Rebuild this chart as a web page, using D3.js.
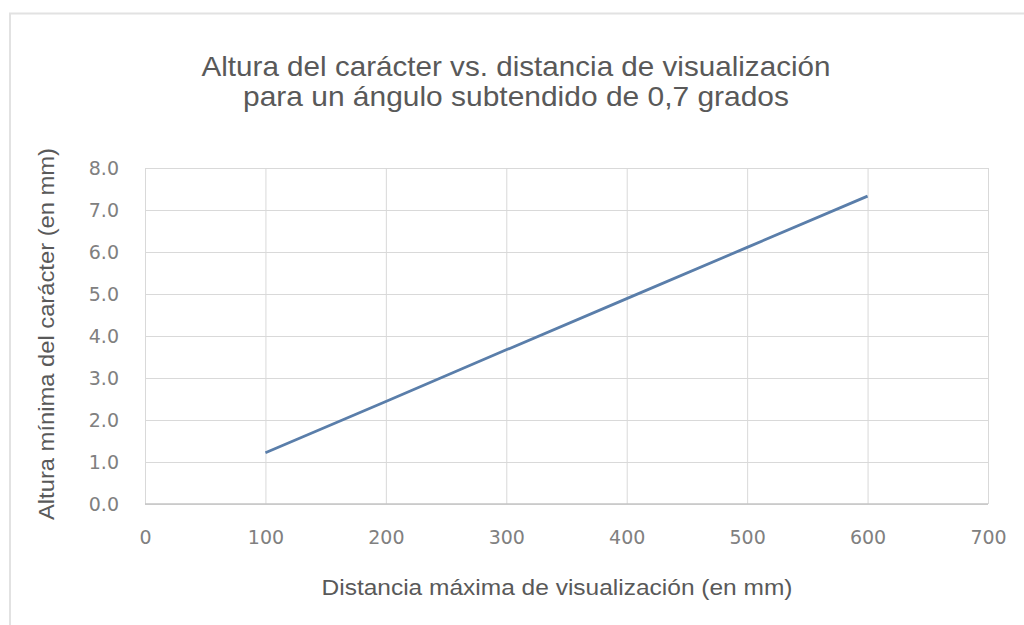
<!DOCTYPE html>
<html>
<head>
<meta charset="utf-8">
<script src="https://cdn.jsdelivr.net/npm/d3@7"></script>
<style>
  body { margin: 0; background: #fff; }
  text { font-family: "Liberation Sans", Arial, sans-serif; }
</style>
</head>
<body>
<script>
// Datos del grafico
const distancias = [100, 200, 300, 400, 500, 600];
const alturas = [1.22, 2.44, 3.67, 4.89, 6.11, 7.33];
const xTicks = [0, 100, 200, 300, 400, 500, 600, 700];
const yTicks = [0, 1, 2, 3, 4, 5, 6, 7, 8];
const titulo = ["Altura del carácter vs. distancia de visualización",
                "para un ángulo subtendido de 0,7 grados"];
const xLabel = "Distancia máxima de visualización (en mm)";
const yLabel = "Altura mínima del carácter (en mm)";

const W = 1024, H = 625;
const margin = {top: 168, right: 36, bottom: 121, left: 145};
const width = W - margin.left - margin.right,
      height = H - margin.top - margin.bottom;

const svg = d3.select("body").append("svg")
  .attr("width", W)
  .attr("height", H);

// Marco exterior (solo arriba e izquierda visibles)
svg.append("path")
  .attr("d", "M10,625V13.5H1024")
  .attr("fill", "none")
  .attr("stroke", "#e2e2e2")
  .attr("stroke-width", 2);

const x = d3.scaleLinear().domain([0, 700]).range([0, width]);
const y = d3.scaleLinear().domain([0, 8]).range([height, 0]);

const g = svg.append("g")
  .attr("transform", "translate(" + margin.left + "," + margin.top + ")");

// Rejilla
g.append("g")
  .attr("class", "grid")
  .call(d3.axisLeft(y).tickValues(yTicks).tickSize(-width).tickFormat(""))
  .call(a => a.select(".domain").remove())
  .call(a => a.selectAll("line").attr("stroke", "#d9d9d9"));

g.append("g")
  .attr("class", "grid")
  .attr("transform", "translate(0," + height + ")")
  .call(d3.axisBottom(x).tickValues(xTicks).tickSize(-height).tickFormat(""))
  .call(a => a.select(".domain").remove())
  .call(a => a.selectAll("line").attr("stroke", "#d9d9d9"));

// Eje inferior
g.append("line")
  .attr("x1", 0).attr("x2", width)
  .attr("y1", y(0)).attr("y2", y(0))
  .attr("stroke", "#c4c4c4").attr("stroke-width", 1.5);

// Etiquetas de los ejes
const xAxis = g.append("g")
  .attr("transform", "translate(0," + height + ")")
  .call(d3.axisBottom(x).tickValues(xTicks).tickSize(0).tickPadding(27).tickFormat(d3.format("d")));
xAxis.select(".domain").remove();
xAxis.selectAll("text")
  .attr("fill", "#808080")
  .style("font-size", "19px")
  .style("font-family", "'DejaVu Sans', sans-serif");

const yAxis = g.append("g")
  .call(d3.axisLeft(y).tickValues(yTicks).tickSize(0).tickPadding(26).tickFormat(d3.format(".1f")));
yAxis.select(".domain").remove();
yAxis.selectAll("text")
  .attr("fill", "#808080")
  .style("font-size", "19px")
  .style("font-family", "'DejaVu Sans', sans-serif");

// Linea
const line = d3.line()
  .x((d, i) => x(distancias[i]))
  .y(d => y(d));

g.append("path")
  .datum(alturas)
  .attr("fill", "none")
  .attr("stroke", "#5a7eaa")
  .attr("stroke-width", 2.75)
  .attr("d", line);

// Titulo
const anchos = [629, 546];
svg.append("g").selectAll("text")
  .data(titulo)
  .enter().append("text")
  .attr("x", 516)
  .attr("y", (d, i) => 76 + i * 30)
  .attr("text-anchor", "middle")
  .attr("fill", "#595959")
  .attr("textLength", (d, i) => anchos[i])
  .attr("lengthAdjust", "spacingAndGlyphs")
  .style("font-size", "28px")
  .text(d => d);

svg.append("text")
  .attr("x", 557).attr("y", 595)
  .attr("text-anchor", "middle")
  .attr("fill", "#595959")
  .attr("textLength", 471)
  .attr("lengthAdjust", "spacingAndGlyphs")
  .style("font-size", "22px")
  .text(xLabel);

svg.append("text")
  .attr("transform", "translate(54,334) rotate(-90)")
  .attr("text-anchor", "middle")
  .attr("fill", "#595959")
  .attr("textLength", 372)
  .attr("lengthAdjust", "spacingAndGlyphs")
  .style("font-size", "22px")
  .text(yLabel);
</script>
</body>
</html>
